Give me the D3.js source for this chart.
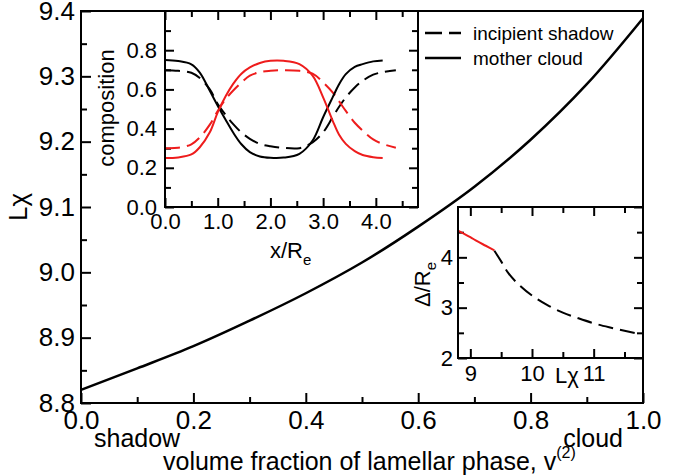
<!DOCTYPE html>
<html><head><meta charset="utf-8">
<script src="https://cdn.jsdelivr.net/npm/d3@7"></script>
<style>
body{margin:0;background:#fff}
svg{display:block}
text{font-family:"Liberation Sans",Arial,Helvetica,sans-serif;fill:#000}
</style>
</head><body>
<svg id="c" width="684" height="476"></svg>
<script>
// ---------- main chart data ----------
const mainV = [0, 0.1, 0.2, 0.3, 0.4, 0.5, 0.6, 0.7, 0.8, 0.9, 1.0];
const mainL = [8.820, 8.853, 8.887, 8.926, 8.968, 9.015, 9.070, 9.131, 9.203, 9.288, 9.389];
const mainXTicks = [0, 0.2, 0.4, 0.6, 0.8, 1.0];
const mainXLabels = ["0.0", "0.2", "0.4", "0.6", "0.8", "1.0"];
const mainYTicks = [8.8, 8.9, 9.0, 9.1, 9.2, 9.3, 9.4];
const mainYLabels = ["8.8", "8.9", "9.0", "9.1", "9.2", "9.3", "9.4"];

// ---------- inset 1: composition profiles ----------
const solidX = [0, 0.25, 0.5, 0.66, 0.85, 1.0, 1.15, 1.29, 1.45, 1.61, 1.8, 2.0, 2.25, 2.55, 2.8, 3.0, 3.18, 3.3, 3.43, 3.6, 3.75, 3.95, 4.13];
const motherBlack = [0.750, 0.745, 0.728, 0.686, 0.593, 0.517, 0.445, 0.381, 0.320, 0.280, 0.258, 0.251, 0.252, 0.271, 0.339, 0.458, 0.559, 0.625, 0.678, 0.715, 0.729, 0.743, 0.748];
const motherRed   = [0.250, 0.253, 0.268, 0.305, 0.381, 0.483, 0.565, 0.627, 0.680, 0.712, 0.735, 0.746, 0.746, 0.729, 0.670, 0.559, 0.441, 0.370, 0.322, 0.285, 0.265, 0.254, 0.250];
const dashX = [0, 0.25, 0.5, 0.66, 0.85, 1.0, 1.15, 1.29, 1.45, 1.61, 1.8, 2.0, 2.2, 2.55, 2.8, 3.0, 3.18, 3.3, 3.43, 3.6, 3.75, 3.95, 4.13, 4.38];
const shadowBlack = [0.698, 0.695, 0.685, 0.658, 0.600, 0.525, 0.470, 0.424, 0.380, 0.348, 0.322, 0.310, 0.303, 0.300, 0.330, 0.381, 0.458, 0.510, 0.559, 0.610, 0.644, 0.675, 0.688, 0.698];
const shadowRed   = [0.300, 0.302, 0.320, 0.355, 0.420, 0.490, 0.550, 0.593, 0.635, 0.670, 0.688, 0.695, 0.698, 0.695, 0.680, 0.636, 0.585, 0.540, 0.490, 0.430, 0.390, 0.345, 0.322, 0.302];
const in1XTicks = [0, 1, 2, 3, 4];
const in1XLabels = ["0.0", "1.0", "2.0", "3.0", "4.0"];
const in1YTicks = [0, 0.2, 0.4, 0.6, 0.8];
const in1YLabels = ["0.0", "0.2", "0.4", "0.6", "0.8"];

// ---------- inset 2: Delta/Re vs L chi ----------
const redLx = [8.8, 9.0, 9.11, 9.25, 9.39];
const redD  = [4.53, 4.40, 4.32, 4.23, 4.14];
const dashLx = [9.39, 9.5, 9.62, 9.8, 10.0, 10.25, 10.5, 10.75, 11.0, 11.25, 11.5, 11.73];
const dashD  = [4.13, 3.92, 3.68, 3.44, 3.24, 3.05, 2.90, 2.79, 2.69, 2.61, 2.54, 2.48];
const in2XTicks = [9, 10, 11];
const in2YTicks = [2, 3, 4];

const legendLabels = ["incipient shadow", "mother cloud"];

const RED = "#ee1c1c";
const svg = d3.select("#c");

function frame(g, x, y) {
  const [x0, x1] = x.range(), [y0, y1] = y.range();
  g.append("rect").attr("x", x0).attr("y", y1).attr("width", x1 - x0).attr("height", y0 - y1)
    .attr("fill", "#fff").attr("stroke", "none");
}
function border(g, x, y, sw) {
  const [x0, x1] = x.range(), [y0, y1] = y.range();
  g.append("rect").attr("x", x0).attr("y", y1).attr("width", x1 - x0).attr("height", y0 - y1)
    .attr("fill", "none").attr("stroke", "#000").attr("stroke-width", sw);
}
function ax(g, gen, scale, vals, size, pad, fmt, tx, ty, fs, sw) {
  const a = gen(scale).tickValues(vals).tickSize(size).tickPadding(pad).tickFormat(fmt);
  const s = g.append("g").attr("transform", `translate(${tx},${ty})`).call(a);
  s.select(".domain").remove();
  s.selectAll("line").attr("stroke", "#000").attr("stroke-width", sw);
  s.selectAll("text").attr("font-size", fs).attr("font-family", '"Liberation Sans",Arial,sans-serif').attr("fill", "#000");
  return s;
}
function minorVals(lo, hi, step, majorStep) {
  const out = [];
  for (let v = lo; v <= hi + 1e-9; v += step) {
    const r = Math.abs(v / majorStep - Math.round(v / majorStep));
    if (r > 1e-6) out.push(+v.toFixed(6));
  }
  return out;
}

// ================= MAIN =================
const mx = d3.scaleLinear().domain([0, 1]).range([81, 643]);
const my = d3.scaleLinear().domain([8.8, 9.4]).range([403, 11]);
const gm = svg.append("g");

ax(gm, d3.axisBottom, mx, mainXTicks, -10, 8, (d, i) => mainXLabels[i], 0, 403, 26, 2);
ax(gm, d3.axisBottom, mx, minorVals(0, 1, 0.1, 0.2), -6, 8, "", 0, 403, 26, 2);
ax(gm, d3.axisLeft, my, mainYTicks, -10, 6, (d, i) => mainYLabels[i], 81, 0, 26, 2);
ax(gm, d3.axisLeft, my, minorVals(8.8, 9.4, 0.05, 0.1).map(v => +(v + 0).toFixed(2)), -6, 6, "", 81, 0, 26, 2);

const mainLine = d3.line().x((d, i) => mx(mainV[i])).y(d => my(d)).curve(d3.curveCatmullRom);
gm.append("path").attr("d", mainLine(mainL)).attr("fill", "none").attr("stroke", "#000").attr("stroke-width", 2.5);
border(gm, mx, my, 2);

// axis titles
gm.append("text").attr("transform", "translate(27,207) rotate(-90)").attr("text-anchor", "middle")
  .attr("font-size", 26).text("Lχ");
gm.append("text").attr("x", 94).attr("y", 447).attr("font-size", 25).text("shadow");
gm.append("text").attr("x", 623).attr("y", 447).attr("text-anchor", "end").attr("font-size", 25).text("cloud");
const xl = gm.append("text").attr("x", 163).attr("y", 470).attr("font-size", 25);
xl.append("tspan").text("volume fraction of lamellar phase, v");
xl.append("tspan").attr("dy", -12).attr("font-size", 16).text("(2)");

// legend
const lg = svg.append("g");
lg.append("line").attr("x1", 425).attr("x2", 461).attr("y1", 33).attr("y2", 33)
  .attr("stroke", "#000").attr("stroke-width", 2.5).attr("stroke-dasharray", "17,7");
lg.append("line").attr("x1", 425).attr("x2", 461).attr("y1", 58).attr("y2", 58)
  .attr("stroke", "#000").attr("stroke-width", 2.5);
lg.append("text").attr("x", 473).attr("y", 40).attr("font-size", 19).text(legendLabels[0]);
lg.append("text").attr("x", 473).attr("y", 65).attr("font-size", 19).text(legendLabels[1]);

// ================= INSET 1 =================
const ix = d3.scaleLinear().domain([0, 4.8]).range([165, 418]);
const iy = d3.scaleLinear().domain([0, 1.0]).range([207, 11]);
const g1 = svg.append("g");
frame(g1, ix, iy);
const in1XMinor = [0.5, 1.5, 2.5, 3.5, 4.5];
const in1YMinor = [0.1, 0.3, 0.5, 0.7, 0.9];
ax(g1, d3.axisBottom, ix, in1XTicks, -9, 6, (d, i) => in1XLabels[i], 0, 207, 22, 2);
ax(g1, d3.axisBottom, ix, in1XMinor, -6, 6, "", 0, 207, 22, 2);
ax(g1, d3.axisTop, ix, in1XTicks, -9, 6, "", 0, 11, 22, 2);
ax(g1, d3.axisTop, ix, in1XMinor, -6, 6, "", 0, 11, 22, 2);
ax(g1, d3.axisLeft, iy, in1YTicks, -9, 8, (d, i) => in1YLabels[i], 165, 0, 22, 2);
ax(g1, d3.axisLeft, iy, in1YMinor, -6, 8, "", 165, 0, 22, 2);
ax(g1, d3.axisRight, iy, in1YTicks, -9, 8, "", 418, 0, 22, 2);
ax(g1, d3.axisRight, iy, in1YMinor, -6, 8, "", 418, 0, 22, 2);

const l1 = (xs) => d3.line().x((d, i) => ix(xs[i])).y(d => iy(d)).curve(d3.curveCatmullRom);
g1.append("path").attr("d", l1(dashX)(shadowBlack)).attr("fill", "none").attr("stroke", "#000").attr("stroke-width", 2).attr("stroke-dasharray", "15,7");
g1.append("path").attr("d", l1(dashX)(shadowRed)).attr("fill", "none").attr("stroke", RED).attr("stroke-width", 2).attr("stroke-dasharray", "15,7");
g1.append("path").attr("d", l1(solidX)(motherBlack)).attr("fill", "none").attr("stroke", "#000").attr("stroke-width", 2);
g1.append("path").attr("d", l1(solidX)(motherRed)).attr("fill", "none").attr("stroke", RED).attr("stroke-width", 2);
border(g1, ix, iy, 2);

g1.append("text").attr("transform", "translate(114,108) rotate(-90)").attr("text-anchor", "middle")
  .attr("font-size", 22).text("composition");
const t1 = g1.append("text").attr("x", 270).attr("y", 258).attr("font-size", 22);
t1.append("tspan").text("x/R");
t1.append("tspan").attr("dy", 7).attr("font-size", 15).text("e");

// ================= INSET 2 =================
const jx = d3.scaleLinear().domain([8.8, 11.8]).range([458, 643]);
const jy = d3.scaleLinear().domain([2, 5]).range([358, 207]);
const g2 = svg.append("g");
frame(g2, jx, jy);
const in2XMinor = [9.5, 10.5, 11.5];
const in2YMinor = [2.5, 3.5, 4.5];
ax(g2, d3.axisBottom, jx, in2XTicks, -9, 7, d3.format("d"), 0, 358, 22, 2);
ax(g2, d3.axisBottom, jx, in2XMinor, -6, 7, "", 0, 358, 22, 2);
ax(g2, d3.axisTop, jx, in2XTicks, -9, 7, "", 0, 207, 22, 2);
ax(g2, d3.axisTop, jx, in2XMinor, -6, 7, "", 0, 207, 22, 2);
ax(g2, d3.axisLeft, jy, in2YTicks, -9, 5, d3.format("d"), 458, 0, 22, 2);
ax(g2, d3.axisLeft, jy, in2YMinor, -6, 5, "", 458, 0, 22, 2);
ax(g2, d3.axisRight, jy, in2YTicks.concat([5]), -9, 5, "", 643, 0, 22, 2);
ax(g2, d3.axisRight, jy, in2YMinor, -6, 5, "", 643, 0, 22, 2);

const l2 = (xs) => d3.line().x((d, i) => jx(xs[i])).y(d => jy(d)).curve(d3.curveCatmullRom);
g2.append("path").attr("d", l2(redLx)(redD)).attr("fill", "none").attr("stroke", RED).attr("stroke-width", 2);
g2.append("path").attr("d", l2(dashLx)(dashD)).attr("fill", "none").attr("stroke", "#000").attr("stroke-width", 2).attr("stroke-dasharray", "15,7");
border(g2, jx, jy, 2);

g2.append("text").attr("x", 567).attr("y", 383).attr("text-anchor", "middle").attr("font-size", 22).text("Lχ");
const t2 = g2.append("text").attr("transform", "translate(430,307) rotate(-90)").attr("font-size", 22);
t2.append("tspan").text("Δ/R");
t2.append("tspan").attr("dy", 6).attr("font-size", 15).text("e");
</script>
</body></html>
